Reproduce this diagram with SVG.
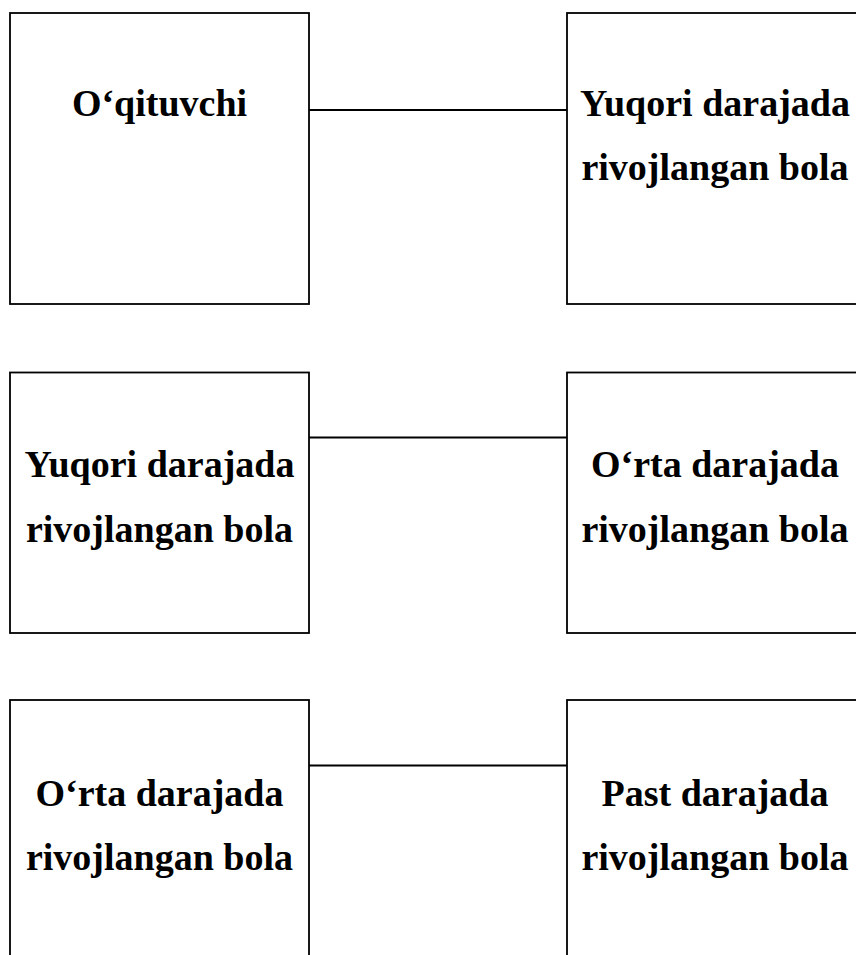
<svg xmlns="http://www.w3.org/2000/svg" width="856" height="955" viewBox="0 0 856 955">
<style>
.box{fill:#fff;stroke:#000;stroke-width:1.8}
.con{stroke:#000;stroke-width:1.8;fill:none}
text{font-family:"Liberation Serif","Times New Roman",serif;font-weight:bold;font-size:38px;fill:#000;text-anchor:middle}
</style>
<rect width="856" height="955" fill="#fff"/>
<g id="connectors">
<line class="con" x1="309" y1="110" x2="567" y2="110"/>
<line class="con" x1="309" y1="437.5" x2="567" y2="437.5"/>
<line class="con" x1="309" y1="765.5" x2="567" y2="765.5"/>
</g>
<g id="n1">
<rect class="box" x="10" y="13" width="299" height="291"/>
<text x="159.5" y="116">O‘qituvchi</text>
</g>
<g id="n2">
<rect class="box" x="567" y="13" width="320" height="291"/>
<text x="715" y="116">Yuqori darajada</text>
<text x="715" y="180">rivojlangan bola</text>
</g>
<g id="n3">
<rect class="box" x="10" y="372.5" width="299" height="260.5"/>
<text x="159.5" y="477">Yuqori darajada</text>
<text x="159.5" y="542">rivojlangan bola</text>
</g>
<g id="n4">
<rect class="box" x="567" y="372.5" width="320" height="260.5"/>
<text x="715" y="477">O‘rta darajada</text>
<text x="715" y="542">rivojlangan bola</text>
</g>
<g id="n5">
<rect class="box" x="10" y="700" width="299" height="300"/>
<text x="159.5" y="806">O‘rta darajada</text>
<text x="159.5" y="870">rivojlangan bola</text>
</g>
<g id="n6">
<rect class="box" x="567" y="700" width="320" height="300"/>
<text x="715" y="806">Past darajada</text>
<text x="715" y="870">rivojlangan bola</text>
</g>
</svg>
